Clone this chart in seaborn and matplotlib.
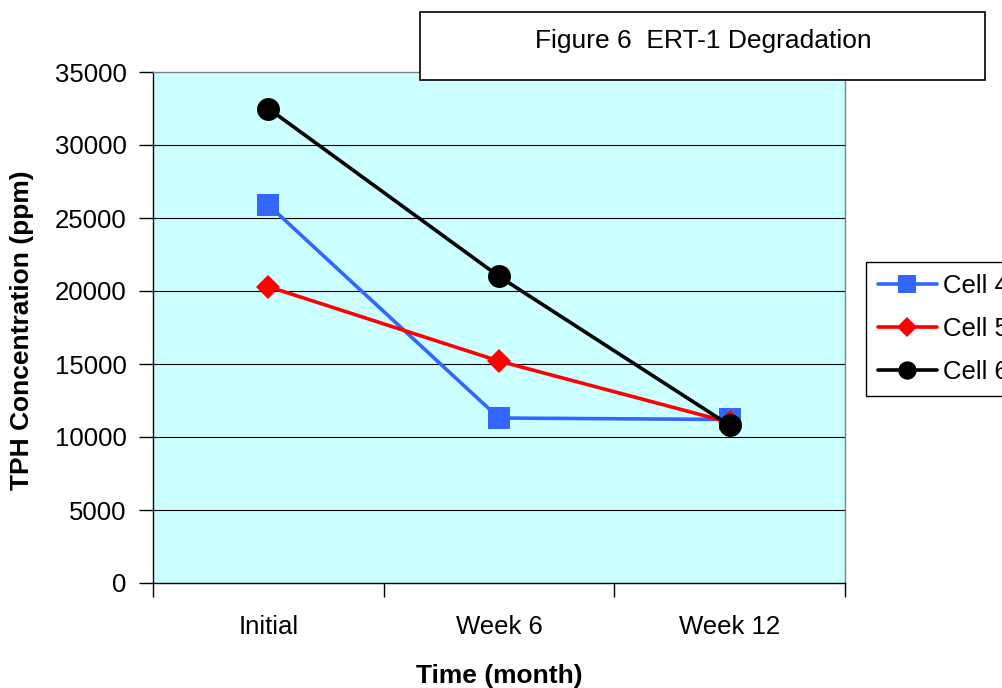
import numpy as np
import pandas as pd
import matplotlib
matplotlib.use("Agg")
import matplotlib.pyplot as plt
from matplotlib.patches import Rectangle
from matplotlib.ticker import FixedLocator, NullFormatter
import seaborn as sns

# ---- data ----
periods = ["Initial", "Week 6", "Week 12"]
cell4 = [25900, 11300, 11200]
cell5 = [20300, 15200, 11000]
cell6 = [32500, 21000, 10800]
series_names = ["Cell 4", "Cell 5", "Cell 6"]
y_ticks = [0, 5000, 10000, 15000, 20000, 25000, 30000, 35000]
title_text = "Figure 6  ERT-1 Degradation"
x_label = "Time (month)"
y_label = "TPH Concentration (ppm)"

sns.set_theme(style="white")
plt.rcParams["font.family"] = ["Liberation Sans", "DejaVu Sans"]
plt.rcParams["text.color"] = "black"
plt.rcParams["axes.labelcolor"] = "black"
plt.rcParams["xtick.color"] = "black"
plt.rcParams["ytick.color"] = "black"

pos = np.arange(len(periods))
df = pd.DataFrame({
    "pos": np.tile(pos, 3),
    "value": cell4 + cell5 + cell6,
    "cell": np.repeat(series_names, len(periods)),
})

fig = plt.figure(figsize=(10.03, 6.88), dpi=100)
fig.patch.set_facecolor("white")
ax = fig.add_axes([153 / 1003, 1 - 583 / 688, 692 / 1003, 511 / 688])
ax.set_facecolor("#CCFFFF")

styles = {
    "Cell 4": dict(color="#3366FF", marker="s", ms=16),
    "Cell 5": dict(color="#FF0000", marker="D", ms=12.5),
    "Cell 6": dict(color="#000000", marker="o", ms=16.5),
}
for name in series_names:
    st = styles[name]
    sub = df[df["cell"] == name]
    sns.lineplot(data=sub, x="pos", y="value", ax=ax, color=st["color"],
                 marker=st["marker"], markersize=st["ms"],
                 markeredgewidth=0, linewidth=2.6, label=name, zorder=3)

ax.set_xlim(-0.5, len(periods) - 0.5)
ax.set_ylim(0, 35000)
ax.set_yticks(y_ticks)
ax.set_yticklabels([str(v) for v in y_ticks])
ax.set_xticks(pos)
ax.set_xticklabels(periods)
ax.xaxis.set_minor_locator(FixedLocator(np.arange(-0.5, len(periods), 1.0)))
ax.xaxis.set_minor_formatter(NullFormatter())
ax.tick_params(axis="x", which="major", length=0, pad=23, labelsize=18.5, colors="black")
ax.tick_params(axis="x", which="minor", length=10, width=1, direction="out",
               color="black", bottom=True)
ax.tick_params(axis="y", which="major", length=10, width=1, direction="out",
               pad=9, labelsize=18.5, colors="black", left=True)

for v in y_ticks[1:-1]:
    ax.axhline(v, color="black", linewidth=0.8, zorder=1)

for s in ["left", "bottom"]:
    ax.spines[s].set_color("black")
    ax.spines[s].set_linewidth(1.0)
for s in ["top", "right"]:
    ax.spines[s].set_color("#808080")
    ax.spines[s].set_linewidth(1.0)

ax.set_xlabel(x_label, fontsize=19, fontweight="bold", color="black")
ax.set_ylabel(y_label, fontsize=19, fontweight="bold", color="black")
ax.xaxis.set_label_coords(0.5, -0.158)
ax.yaxis.set_label_coords(-0.172, 0.495)

handles, labels = ax.get_legend_handles_labels()
if ax.get_legend() is not None:
    ax.get_legend().remove()
leg = fig.legend(handles, labels, loc="upper left",
                 bbox_to_anchor=(866 / 1003, 1 - 262 / 688),
                 bbox_transform=fig.transFigure, borderaxespad=0,
                 fontsize=18.5, frameon=True, fancybox=False,
                 edgecolor="black", framealpha=1, handlelength=2.3,
                 handletextpad=0.25, borderpad=0.45, labelspacing=0.75,
                 markerscale=0.8)
leg.get_frame().set_linewidth(1.0)
for t in leg.get_texts():
    t.set_color("black")

rect = Rectangle((420 / 1003, 1 - 80 / 688), 565 / 1003, 68 / 688,
                 transform=fig.transFigure, facecolor="white",
                 edgecolor="black", linewidth=1.2, zorder=5)
fig.add_artist(rect)
fig.text(703 / 1003, 1 - 41 / 688, title_text, ha="center", va="center",
         fontsize=19, color="black", zorder=6)

fig.savefig("out.png", dpi=100)
